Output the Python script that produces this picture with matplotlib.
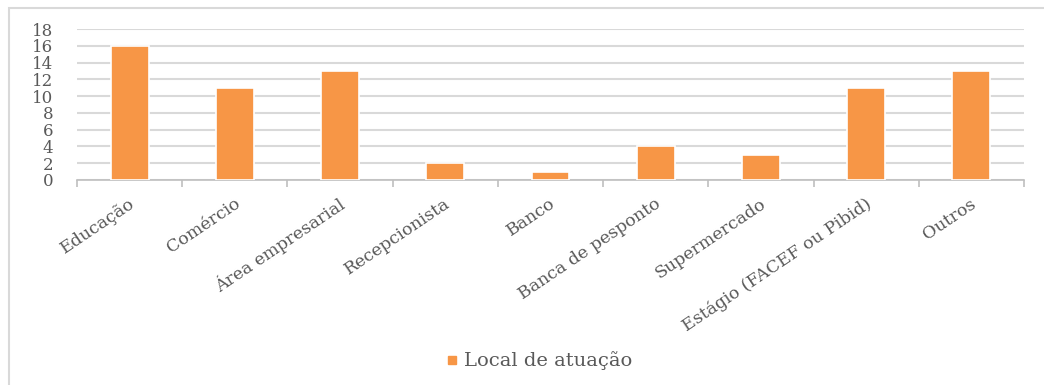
import matplotlib
matplotlib.use("Agg")
import matplotlib.pyplot as plt
from matplotlib.patches import Rectangle
from matplotlib.lines import Line2D

categories = ["Educação", "Comércio", "Área empresarial", "Recepcionista", "Banco",
              "Banca de pesponto", "Supermercado", "Estágio (FACEF ou Pibid)", "Outros"]
values = [16, 11, 13, 2, 1, 4, 3, 11, 13]
series_name = "Local de atuação"
yticks = [0, 2, 4, 6, 8, 10, 12, 14, 16, 18]

W, H = 1044, 385
fig = plt.figure(figsize=(W / 100, H / 100), dpi=100)
fig.patch.set_facecolor("white")

# outer chart frame
fig.add_artist(Rectangle((9 / W, -0.05), 1.1, 1 - 8 / H + 0.05, transform=fig.transFigure,
                         fill=False, edgecolor="#D9D9D9", linewidth=1.5))

ax = fig.add_axes([77 / W, 1 - 180 / H, (1024 - 77) / W, (180 - 29) / H])
x = list(range(len(categories)))
ax.bar(x, values, width=0.36, color="#F79646", edgecolor="white", linewidth=1.2, zorder=3)
ax.set_xlim(-0.5, len(categories) - 0.5)
ax.set_ylim(0, 18)
ax.set_yticks(yticks)
ax.set_yticklabels([str(v) for v in yticks], family="DejaVu Serif", fontsize=12,
                   color="#595959")
ax.tick_params(axis="y", length=0, pad=17)
ax.grid(axis="y", color="#D9D9D9", linewidth=1.5, zorder=0)
ax.set_axisbelow(True)
for s in ["top", "right", "left"]:
    ax.spines[s].set_visible(False)
ax.spines["bottom"].set_color("#BFBFBF")
ax.spines["bottom"].set_linewidth(1.2)

# category boundary ticks
ax.set_xticks([i - 0.5 for i in range(len(categories) + 1)])
ax.set_xticklabels([""] * (len(categories) + 1))
ax.tick_params(axis="x", length=5, width=1.2, color="#BFBFBF", direction="out")
for i, c in enumerate(categories):
    ax.annotate(c, xy=(i, 0), xycoords="data", xytext=(2.5, -16), textcoords="offset points",
                rotation=34, ha="right", va="center", rotation_mode="anchor",
                family="DejaVu Serif", fontsize=12.5, color="#595959")

handle = Line2D([], [], marker="s", linestyle="none", color="#F79646", markersize=5.5)
fig.legend([handle], [series_name], loc="center", bbox_to_anchor=(537 / W, 1 - 361 / H),
           frameon=False, prop={"family": "DejaVu Serif", "size": 14}, labelcolor="#595959",
           handletextpad=0.1, handlelength=1.0)

fig.savefig("out.png", dpi=100, facecolor="white")
